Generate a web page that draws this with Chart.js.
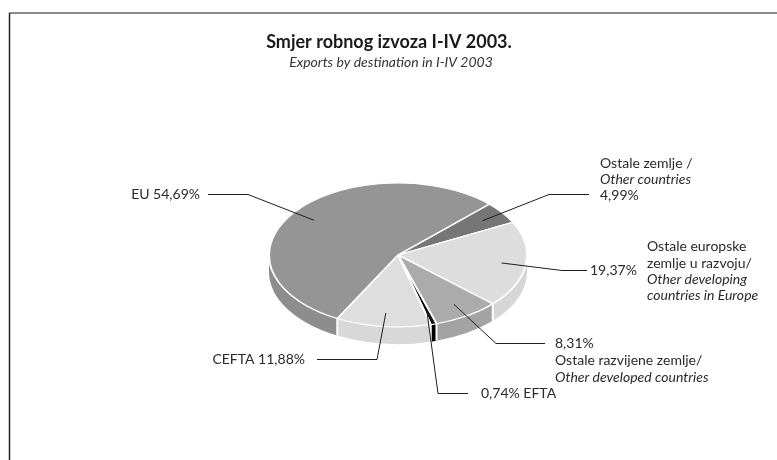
<!DOCTYPE html>
<html>
<head>
<meta charset="utf-8">
<script src="https://cdn.jsdelivr.net/npm/chart.js@4"></script>
<style>
  html, body { margin: 0; padding: 0; background: #fff; }
  #wrap { width: 777px; height: 460px; }
</style>
</head>
<body>
<div id="wrap"><canvas id="exportsChart" width="777" height="460"></canvas></div>
<script>
// Smjer robnog izvoza I-IV 2003. - tilted pie

const categories = ['Ostale zemlje', 'Ostale europske zemlje u razvoju', 'Ostale razvijene zemlje', 'EFTA', 'CEFTA', 'EU'];
const shares = [4.99, 19.37, 8.31, 0.74, 11.88, 54.69];
const topColors = ['#767676', '#dddddd', '#ababab', '#111111', '#dedede', '#959595'];
const sideColors = ['#6c6c6c', '#d6d6d6', '#a3a3a3', '#000000', '#d8d8d8', '#8d8d8d'];

const TILT = 0.558;
const DEPTH = 17;
const FONT = 'Lato, "Open Sans", sans-serif';

function pct(v) {
    return v.toFixed(2).replace('.', ',') + '%';
}

// label layout, offsets from the pie centre
const labelLayout = [
    { elbow: [151, -61], end: 191, lines: [
        { t: 'Ostale zemlje /', x: 202, y: -92 },
        { t: 'Other countries', x: 202, y: -76, it: true },
        { t: pct(shares[0]), x: 202, y: -60 }] },
    { elbow: [164, 15], end: 189, lines: [
        { t: pct(shares[1]), x: 192, y: 15 },
        { t: 'Ostale europske', x: 249, y: -9 },
        { t: 'zemlje u razvoju/', x: 249, y: 8 },
        { t: 'Other developing', x: 249, y: 24, it: true },
        { t: 'countries in Europe', x: 249, y: 40, it: true }] },
    { elbow: [98, 88], end: 147, lines: [
        { t: pct(shares[2]), x: 157, y: 88 },
        { t: 'Ostale razvijene zemlje/', x: 157, y: 105 },
        { t: 'Other developed countries', x: 157, y: 122, it: true }] },
    { elbow: [40, 138], end: 70, lines: [
        { t: pct(shares[3]) + ' EFTA', x: 83, y: 138 }] },
    { elbow: [-21, 104], end: -81, lines: [
        { t: 'CEFTA ' + pct(shares[4]), x: -93, y: 104, right: true }] },
    { elbow: [-150, -61], end: -190, lines: [
        { t: 'EU ' + pct(shares[5]), x: -198, y: -61, right: true }] }
];

const tiltPlugin = {
    id: 'tilt',
    beforeDatasetsDraw(chart) {
        const ctx = chart.ctx;
        const arcs = chart.getDatasetMeta(0).data;
        const cx = arcs[0].x, cy = arcs[0].y, R = arcs[0].outerRadius;

        // side walls, front half only
        arcs.forEach((arc, i) => {
            const a = Math.max(arc.startAngle, 0);
            const b = Math.min(arc.endAngle, Math.PI);
            if (b <= a) return;
            ctx.beginPath();
            ctx.ellipse(cx, cy, R, R * TILT, 0, a, b);
            ctx.ellipse(cx, cy + DEPTH, R, R * TILT, 0, b, a, true);
            ctx.closePath();
            ctx.fillStyle = sideColors[i];
            ctx.fill();
        });
        ctx.strokeStyle = '#ffffff';
        ctx.lineWidth = 2;
        arcs.forEach(arc => {
            const t = arc.startAngle;
            if (t > 0 && t < Math.PI) {
                const px = cx + R * Math.cos(t), py = cy + R * TILT * Math.sin(t);
                ctx.beginPath();
                ctx.moveTo(px, py);
                ctx.lineTo(px, py + DEPTH);
                ctx.stroke();
            }
        });

        ctx.save();
        ctx.translate(cx, cy);
        ctx.scale(1, TILT);
        ctx.translate(-cx, -cy);
    },
    afterDatasetsDraw(chart) {
        chart.ctx.restore();
    },
    afterDraw(chart) {
        const ctx = chart.ctx;
        const arcs = chart.getDatasetMeta(0).data;
        const cx = arcs[0].x, cy = arcs[0].y, R = arcs[0].outerRadius;

        // frame
        ctx.save();
        ctx.strokeStyle = '#8a8a8a';
        ctx.lineWidth = 2;
        ctx.beginPath();
        ctx.moveTo(9, 13);
        ctx.lineTo(777, 13);
        ctx.stroke();
        ctx.strokeStyle = '#222222';
        ctx.lineWidth = 1.5;
        ctx.beginPath();
        ctx.moveTo(9.5, 13);
        ctx.lineTo(9.5, 460);
        ctx.stroke();

        // title
        ctx.fillStyle = '#1a1a1a';
        ctx.textAlign = 'center';
        ctx.textBaseline = 'middle';
        ctx.font = 'bold 18px ' + FONT;
        ctx.fillText('Smjer robnog izvoza I-IV 2003.', 389, 42);
        ctx.fillStyle = '#333333';
        ctx.font = 'italic 14px ' + FONT;
        ctx.fillText('Exports by destination in I-IV 2003', 391, 62);

        // leader lines and labels
        arcs.forEach((arc, i) => {
            const L = labelLayout[i];
            const mid = (arc.startAngle + arc.endAngle) / 2;
            const ax = cx + 0.81 * R * Math.cos(mid);
            const ay = cy + 0.81 * R * TILT * Math.sin(mid);
            ctx.strokeStyle = '#1e1e1e';
            ctx.lineWidth = 1;
            ctx.beginPath();
            ctx.moveTo(ax, ay);
            ctx.lineTo(cx + L.elbow[0], cy + L.elbow[1] + 0.5);
            ctx.lineTo(cx + L.end, cy + L.elbow[1] + 0.5);
            ctx.stroke();
            L.lines.forEach(ln => {
                ctx.font = (ln.it ? 'italic ' : '') + '14px ' + FONT;
                ctx.textAlign = ln.right ? 'right' : 'left';
                ctx.fillStyle = '#2a2a2a';
                ctx.fillText(ln.t, cx + ln.x, cy + ln.y);
            });
        });
        ctx.restore();
    }
};

new Chart(document.getElementById('exportsChart').getContext('2d'), {
    type: 'pie',
    data: {
        labels: categories,
        datasets: [{
            data: shares,
            backgroundColor: topColors,
            borderColor: '#ffffff',
            borderWidth: 2,
            clip: false
        }]
    },
    options: {
        responsive: false,
        animation: false,
        devicePixelRatio: 1,
        rotation: 45,
        layout: {
            padding: { left: 268, right: 249, top: 125, bottom: 75 }
        },
        plugins: {
            legend: { display: false },
            tooltip: { enabled: false }
        }
    },
    plugins: [tiltPlugin]
});
</script>
</body>
</html>
